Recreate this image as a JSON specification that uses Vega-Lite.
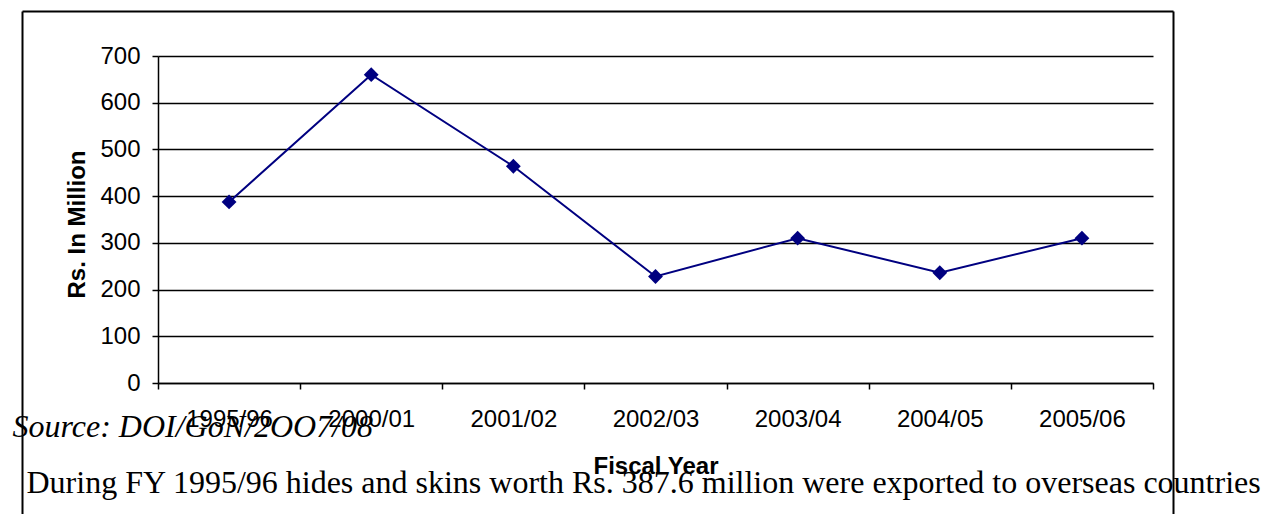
{
  "$schema": "https://vega.github.io/schema/vega-lite/v6.json",
  "autosize": "none",
  "width": 995,
  "height": 327,
  "padding": {"left": 158, "top": 56, "right": 111, "bottom": 131},
  "background": "white",
  "config": {"view": {"stroke": null}},
  "data": {"values": [
    {"fy": "1995/96", "value": 387.6},
    {"fy": "2000/01", "value": 660},
    {"fy": "2001/02", "value": 464},
    {"fy": "2002/03", "value": 228},
    {"fy": "2003/04", "value": 310},
    {"fy": "2004/05", "value": 236},
    {"fy": "2005/06", "value": 310}
  ]},
  "layer": [
    {
      "mark": {"type": "point", "opacity": 0},
      "encoding": {
        "x": {"field": "fy", "type": "nominal", "sort": null,
          "scale": {"type": "band", "range": [-136, 1015], "paddingInner": 0, "paddingOuter": 0},
          "axis": {"orient": "top", "offset": 45, "domain": true, "domainColor": "#000", "domainWidth": 2,
            "labels": false, "ticks": false, "grid": false,
            "title": "Source: DOI/GoN/2OO7/08", "titleFont": "Liberation Serif", "titleFontStyle": "italic",
            "titleFontWeight": "normal", "titleFontSize": 32, "titleColor": "#000",
            "titleX": -146, "titleY": 425, "titleAlign": "left", "titleBaseline": "alphabetic", "titleAngle": 0}},
        "y": {"field": "value", "type": "quantitative",
          "scale": {"domain": [0, 700], "range": [464, -45], "zero": false, "nice": false},
          "axis": {"orient": "left", "offset": 136, "domain": true, "domainColor": "#000", "domainWidth": 2,
            "labels": false, "ticks": false, "grid": false, "title": null}}
      }
    },
    {
      "mark": {"type": "point", "opacity": 0},
      "encoding": {
        "x": {"field": "fy", "type": "nominal", "sort": null,
          "scale": {"type": "band", "range": [-136, 1015], "paddingInner": 0, "paddingOuter": 0},
          "axis": {"orient": "bottom", "domain": false, "labels": false, "ticks": false, "grid": false,
            "title": "During FY 1995/96 hides and skins worth Rs. 387.6 million were exported to overseas countries",
            "titleFont": "Liberation Serif", "titleFontWeight": "normal", "titleFontSize": 32, "titleColor": "#000",
            "titleX": -132, "titleY": 109, "titleAlign": "left", "titleBaseline": "alphabetic", "titleAngle": 0}},
        "y": {"field": "value", "type": "quantitative",
          "scale": {"domain": [0, 700], "range": [464, -45], "zero": false, "nice": false},
          "axis": {"orient": "right", "offset": 20, "domain": true, "domainColor": "#000", "domainWidth": 2,
            "labels": false, "ticks": false, "grid": false, "title": null}}
      }
    },
    {
      "layer": [
        {"mark": {"type": "line", "color": "#000080", "strokeWidth": 2}},
        {"mark": {"type": "point", "shape": "diamond", "filled": true, "color": "#000080", "opacity": 1, "size": 220}}
      ],
      "encoding": {
        "x": {"field": "fy", "type": "nominal", "sort": null,
          "scale": {"type": "band", "paddingInner": 0, "paddingOuter": 0},
          "axis": {"orient": "bottom", "tickBand": "extent", "domainColor": "#000", "domainWidth": 1.5,
            "tickColor": "#000", "tickWidth": 1.5, "tickSize": 6, "labelAngle": 0,
            "labelFont": "Liberation Sans", "labelFontSize": 24, "labelColor": "#000", "labelPadding": 18,
            "grid": false, "title": "Fiscal Year", "titleFont": "Liberation Sans", "titleFontSize": 24,
            "titleFontWeight": "bold", "titleColor": "#000", "titleY": 90, "titleBaseline": "alphabetic"}},
        "y": {"field": "value", "type": "quantitative",
          "scale": {"domain": [0, 700], "nice": false, "zero": true},
          "axis": {"orient": "left", "values": [0, 100, 200, 300, 400, 500, 600, 700],
            "domainColor": "#000", "domainWidth": 1.5, "tickColor": "#000", "tickWidth": 1.5, "tickSize": 6,
            "grid": true, "gridColor": "#000", "gridWidth": 1.5, "gridOpacity": 1,
            "labelFont": "Liberation Sans", "labelFontSize": 24, "labelColor": "#000", "labelPadding": 12,
            "title": "Rs. In Million", "titleFont": "Liberation Sans", "titleFontSize": 24,
            "titleFontWeight": "bold", "titleColor": "#000", "titleX": -74, "titleY": 168,
            "titleAlign": "center", "titleBaseline": "alphabetic", "titleAngle": -90}}
      }
    }
  ],
  "resolve": {"scale": {"x": "independent", "y": "independent"}, "axis": {"x": "independent", "y": "independent"}}
}
